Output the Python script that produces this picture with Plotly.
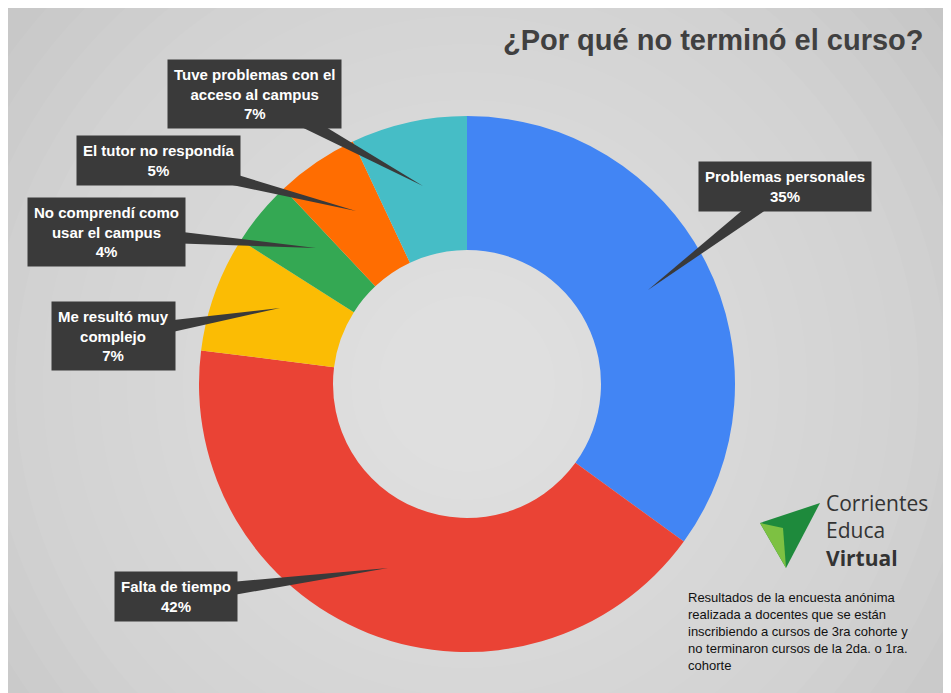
import plotly.graph_objects as go

labels = ["Problemas personales", "Falta de tiempo", "Me resultó muy complejo",
          "No comprendí como usar el campus", "El tutor no respondía",
          "Tuve problemas con el acceso al campus"]
values = [35, 42, 7, 4, 5, 7]
colors = ["#4285f4", "#ea4335", "#fbbc04", "#34a853", "#ff6d01", "#46bdc6"]
box_texts = ["Problemas personales<br>35%", "Falta de tiempo<br>42%",
             "Me resultó muy<br>complejo<br>7%", "No comprendí como<br>usar el campus<br>4%",
             "El tutor no respondía<br>5%", "Tuve problemas con el<br>acceso al campus<br>7%"]

W, H = 951, 693
def px(x, y):
    return x / W, 1 - y / H

fig = go.Figure(go.Pie(labels=labels, values=values, hole=0.5, sort=False,
                       direction="clockwise", rotation=0, textinfo="none",
                       marker=dict(colors=colors, line=dict(width=0)),
                       domain=dict(x=[191/W, 727/W], y=[1-644/H, 1-108/H]),
                       showlegend=False, hoverinfo="label+percent"))

shapes = []
for i in range(20):
    r = 620 - i * 28
    x0, y0 = px(459 - r, 376 - r)
    x1, y1 = px(459 + r, 376 + r)
    shapes.append(dict(type="circle", xref="paper", yref="paper", x0=x0, y0=y1, x1=x1, y1=y0,
                       fillcolor="white", opacity=0.045, line=dict(width=0), layer="below"))

callouts = [((777, 178), (640, 282)), ((168, 588), (380, 560)), ((105, 328), (272, 300)),
            ((98, 224), (308, 240)), ((150, 152), (348, 203)), ((246, 86), (415, 178))]
anns = []
for t, ((bx, by), (tx, ty)) in zip(box_texts, callouts):
    dx, dy = tx - bx, ty - by
    L = (dx*dx + dy*dy) ** 0.5
    nx, ny = -dy / L * 9, dx / L * 9
    pts = [px(bx + nx, by + ny), px(bx - nx, by - ny), px(tx, ty)]
    path = "M {} {} L {} {} L {} {} Z".format(pts[0][0], pts[0][1], pts[1][0], pts[1][1], pts[2][0], pts[2][1])
    shapes.append(dict(type="path", xref="paper", yref="paper", path=path,
                       fillcolor="#3a3a3a", line=dict(width=0)))
    x, y = px(bx, by)
    anns.append(dict(x=x, y=y, xref="paper", yref="paper", xanchor="center", yanchor="middle",
                     text="<b>" + t + "</b>", showarrow=False,
                     font=dict(family="Liberation Sans, Arial", size=15, color="white"),
                     bgcolor="#3a3a3a", borderpad=6, align="center"))

shapes.append(dict(type="path", xref="paper", yref="paper",
                   path="M {} {} L {} {} L {} {} Z".format(*px(752, 515), *px(812, 495), *px(778, 560)),
                   fillcolor="#1e8a3c", line=dict(width=0)))
shapes.append(dict(type="path", xref="paper", yref="paper",
                   path="M {} {} L {} {} L {} {} Z".format(*px(752, 515), *px(775, 520), *px(778, 560)),
                   fillcolor="#7dc142", line=dict(width=0)))

x, y = px(705, 32)
anns.append(dict(x=x, y=y, xref="paper", yref="paper", xanchor="center", yanchor="middle",
                 text="<b>¿Por qué no terminó el curso?</b>",
                 showarrow=False, font=dict(family="Liberation Sans, Arial", size=29, color="#404040")))
x, y = px(816, 522)
anns.append(dict(x=x, y=y, xref="paper", yref="paper", xanchor="left", yanchor="middle",
                 text="Corrientes<br>Educa<br><b>Virtual</b>", showarrow=False, align="left",
                 font=dict(family="Open Sans", size=21, color="#333333")))
x, y = px(678, 623)
anns.append(dict(x=x, y=y, xref="paper", yref="paper", xanchor="left", yanchor="middle",
                 align="left", showarrow=False,
                 text="Resultados de la encuesta anónima<br>realizada a docentes que se están<br>inscribiendo a cursos de 3ra cohorte y<br>no terminaron cursos de la 2da. o 1ra.<br>cohorte",
                 font=dict(family="Liberation Sans, Arial", size=13, color="#111111")))

fig.update_layout(width=W, height=H, margin=dict(l=0, r=0, t=0, b=0),
                  paper_bgcolor="#c4c4c4", plot_bgcolor="#c4c4c4",
                  shapes=shapes, annotations=anns)
fig.write_html("out.html")
